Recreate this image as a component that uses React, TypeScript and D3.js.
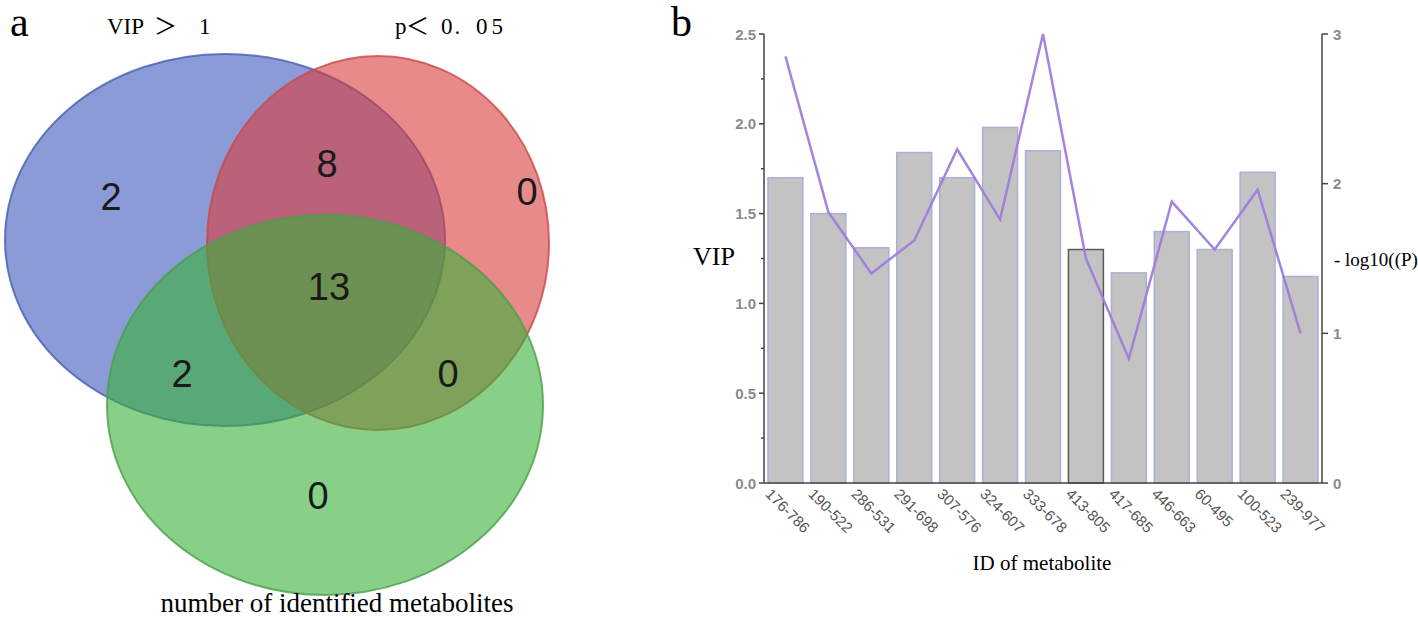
import React from "react";
import * as d3 from "d3";

// ---------- Data ----------
const vennSets = ["VIP＞ 1", "p＜ 0. 05", "number of identified metabolites"];
const vennCounts = [
  { region: "A", value: 2 },
  { region: "AB", value: 8 },
  { region: "B", value: 0 },
  { region: "ABC", value: 13 },
  { region: "AC", value: 2 },
  { region: "BC", value: 0 },
  { region: "C", value: 0 },
];

const metaboliteIds = [
  "176-786", "190-522", "286-531", "291-698", "307-576", "324-607", "333-678",
  "413-805", "417-685", "446-663", "60-495", "100-523", "239-977",
];
const vipValues = [1.70, 1.50, 1.31, 1.84, 1.70, 1.98, 1.85, 1.30, 1.17, 1.40, 1.30, 1.73, 1.15];
const negLogP = [2.85, 1.81, 1.40, 1.62, 2.23, 1.76, 3.0, 1.50, 0.83, 1.88, 1.56, 1.96, 1.0];
const vipTicks = [0, 0.5, 1.0, 1.5, 2.0, 2.5];
const pTicks = [0, 1, 2, 3];
const outlinedId = "413-805";

// ---------- Layout ----------
const W = 1418, H = 618;
const serif = "'Liberation Serif', 'Noto Sans CJK SC', 'Times New Roman', serif";
const sans = "'Liberation Sans', Arial, sans-serif";

const ellipses = [
  { cx: 225, cy: 240, rx: 220, ry: 186, fill: "rgb(60,88,190)", stroke: "#4a5cb0" },
  { cx: 378, cy: 243, rx: 171, ry: 187, fill: "rgb(217,60,60)", stroke: "#c94a4a" },
  { cx: 325, cy: 405, rx: 218, ry: 190, fill: "rgb(57,177,57)", stroke: "#4aa04a" },
];
const regionPos: Record<string, [number, number]> = {
  A: [111, 197], AB: [327, 164], B: [527, 192], ABC: [329, 287],
  AC: [182, 374], BC: [448, 374], C: [318, 496],
};

export default function App() {
  const x = d3.scaleBand<string>().domain(metaboliteIds).range([764, 1322]).paddingInner(0.186).paddingOuter(0.093);
  const yL = d3.scaleLinear().domain([0, 2.5]).range([483, 34]);
  const yR = d3.scaleLinear().domain([0, 3]).range([483, 34]);
  const minor = d3.range(0, 2.51, 0.25);
  const line = d3.line<number>()
    .x((_, i) => (x(metaboliteIds[i]) as number) + x.bandwidth() / 2)
    .y((d) => yR(d));

  return (
    <svg width={W} height={H} style={{ position: "absolute", left: 0, top: 0, background: "#fff" }}>
      {/* Panel a */}
      <text x={10} y={36} fontFamily={serif} fontSize={42}>a</text>
      <text y={34} fontFamily={serif} fontSize={23}>
        <tspan x={107}>VIP</tspan>
        <tspan x={154}>＞</tspan>
        <tspan x={199}>1</tspan>
      </text>
      <text y={34} fontFamily={serif} fontSize={23}>
        <tspan x={395}>p</tspan>
        <tspan x={406}>＜</tspan>
        <tspan x={441} letterSpacing={2}>0.</tspan>
        <tspan x={476} letterSpacing={4}>05</tspan>
      </text>
      {ellipses.map((e, i) => (
        <ellipse key={i} cx={e.cx} cy={e.cy} rx={e.rx} ry={e.ry} fill={e.fill} fillOpacity={0.6}
          stroke={e.stroke} strokeWidth={2} strokeOpacity={0.8} />
      ))}
      {vennCounts.map((c) => (
        <text key={c.region} x={regionPos[c.region][0]} y={regionPos[c.region][1]} textAnchor="middle"
          dominantBaseline="central" fontFamily={sans} fontSize={38} fill="#1a1a1a">{c.value}</text>
      ))}
      <text x={337} y={612} textAnchor="middle" fontFamily={serif} fontSize={27}>{vennSets[2]}</text>

      {/* Panel b */}
      <text x={671} y={36} fontFamily={serif} fontSize={42}>b</text>
      {metaboliteIds.map((id, i) => (
        <rect key={id} x={x(id)} y={yL(vipValues[i])} width={x.bandwidth()} height={yL(0) - yL(vipValues[i])}
          fill="#c3c3c3" stroke={id === outlinedId ? "#5a5a5a" : "#aab0d6"} strokeWidth={1.5} />
      ))}
      <path d={line(negLogP) || ""} fill="none" stroke="#a07ddc" strokeWidth={2.5} strokeOpacity={0.95} />

      {/* left axis */}
      <line x1={764} x2={764} y1={yL(2.5)} y2={yL(0)} stroke="#444" strokeWidth={1.5} />
      {minor.map((t) => (
        <line key={t} x1={764} x2={vipTicks.some((v) => Math.abs(v - t) < 1e-6) ? 759 : 761} y1={yL(t)} y2={yL(t)} stroke="#444" strokeWidth={1.5} />
      ))}
      {vipTicks.map((t) => (
        <text key={t} x={756} y={yL(t)} textAnchor="end" dominantBaseline="central" fontFamily={sans}
          fontSize={15} fontWeight="bold" fill="#8a8a8a">{t.toFixed(1)}</text>
      ))}
      <text x={714} y={265} textAnchor="middle" fontFamily={serif} fontSize={26}>VIP</text>

      {/* right axis */}
      <line x1={1322} x2={1322} y1={yR(3)} y2={yR(0)} stroke="#444" strokeWidth={1.5} />
      {pTicks.map((t) => (
        <g key={t}>
          <line x1={1322} x2={1328} y1={yR(t)} y2={yR(t)} stroke="#444" strokeWidth={1.5} />
          <text x={1333} y={yR(t)} dominantBaseline="central" fontFamily={sans} fontSize={15}
            fontWeight="bold" fill="#8a8a8a">{t}</text>
        </g>
      ))}
      <text x={1334} y={266} fontFamily={serif} fontSize={19}>- log10((P)</text>

      {/* bottom axis */}
      <line x1={764} x2={1322} y1={483} y2={483} stroke="#444" strokeWidth={1.5} />
      {metaboliteIds.map((id) => {
        const cx = (x(id) as number) + x.bandwidth() / 2;
        return (
          <text key={id} transform={`translate(${cx - 13},${487}) rotate(45)`} fontFamily={sans}
            fontSize={15} fill="#555" dominantBaseline="hanging">{id}</text>
        );
      })}
      <text x={1042} y={570} textAnchor="middle" fontFamily={serif} fontSize={21}>ID of metabolite</text>
    </svg>
  );
}
